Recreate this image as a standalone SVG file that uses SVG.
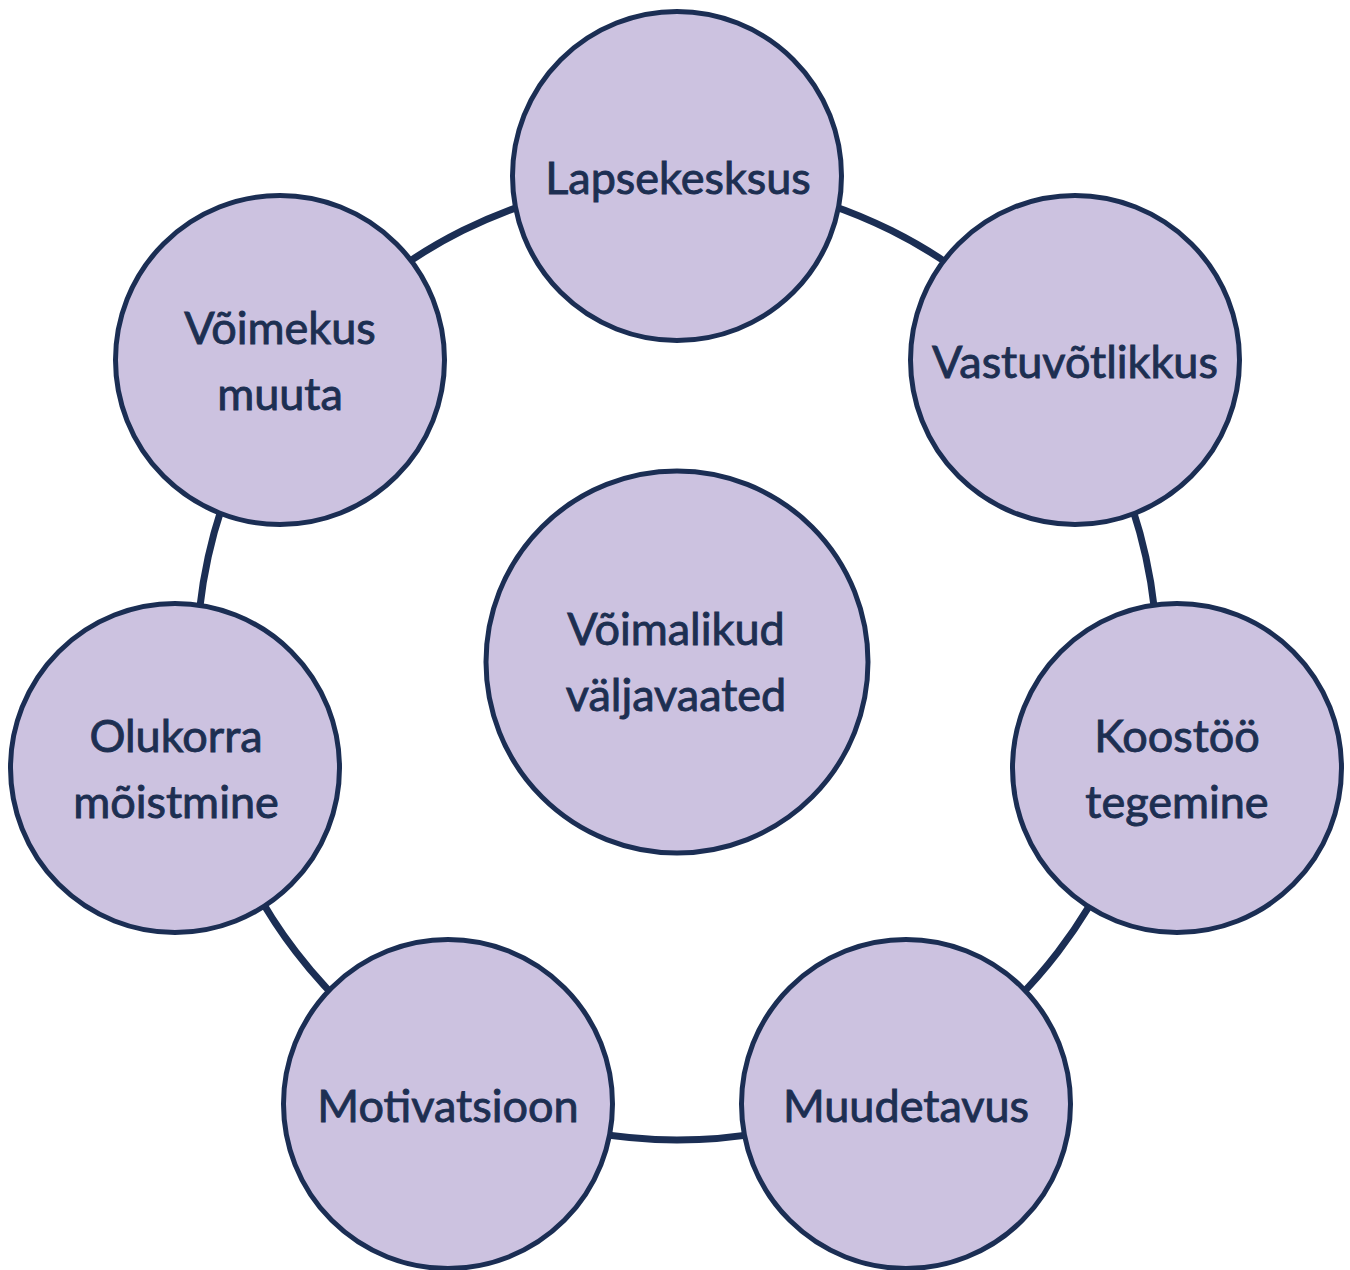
<svg xmlns="http://www.w3.org/2000/svg" width="1350" height="1270" viewBox="0 0 1350 1270">
<style>
.ring{fill:none;stroke:#1b2e54;stroke-width:7}
.node{fill:#ccc2e0;stroke:#1b2e54;stroke-width:5}
.lbl{font-family:Lato,"Noto Sans",sans-serif;font-size:45px;font-weight:400;fill:#1d2f52;stroke:#1d2f52;stroke-width:0.9;text-anchor:middle}
</style>
<rect width="1350" height="1270" fill="#ffffff"/>
<g id="connectors">
<path class="ring" d="M677 180 A480 480 0 0 1 1060.3 371.1"/>
<path class="ring" d="M1060.3 371.1 A480 480 0 0 1 1146.2 761.3"/>
<path class="ring" d="M1146.2 761.3 A480 480 0 0 1 897 1086.6"/>
<path class="ring" d="M897 1086.6 A480 480 0 0 1 457 1086.6"/>
<path class="ring" d="M457 1086.6 A480 480 0 0 1 207.8 761.3"/>
<path class="ring" d="M207.8 761.3 A480 480 0 0 1 293.7 371.1"/>
<path class="ring" d="M293.7 371.1 A480 480 0 0 1 677 180"/>
</g>
<g id="n-lapsekesksus"><circle class="node" cx="677" cy="176" r="164.5"/><text class="lbl" x="678" y="193.5">Lapsekesksus</text></g>
<g id="n-vastuvotlikkus"><circle class="node" cx="1075" cy="360" r="164.5"/><text class="lbl" x="1075" y="377.5">Vastuvõtlikkus</text></g>
<g id="n-koostoo"><circle class="node" cx="1177" cy="768" r="164.5"/><text class="lbl" x="1177" y="752">Koostöö</text><text class="lbl" x="1177" y="818">tegemine</text></g>
<g id="n-muudetavus"><circle class="node" cx="906" cy="1104" r="164.5"/><text class="lbl" x="906" y="1121.5">Muudetavus</text></g>
<g id="n-motivatsioon"><circle class="node" cx="448" cy="1104" r="164.5"/><text class="lbl" x="448" y="1121.5">Motivatsioon</text></g>
<g id="n-olukorra"><circle class="node" cx="175" cy="768" r="164.5"/><text class="lbl" x="176" y="752">Olukorra</text><text class="lbl" x="176" y="818">mõistmine</text></g>
<g id="n-voimekus"><circle class="node" cx="280" cy="360" r="164.5"/><text class="lbl" x="280" y="343.5">Võimekus</text><text class="lbl" x="280" y="409.5">muuta</text></g>
<g id="n-center"><circle class="node" cx="677" cy="662" r="191"/><text class="lbl" x="676" y="645">Võimalikud</text><text class="lbl" x="676" y="711">väljavaated</text></g>
</svg>
